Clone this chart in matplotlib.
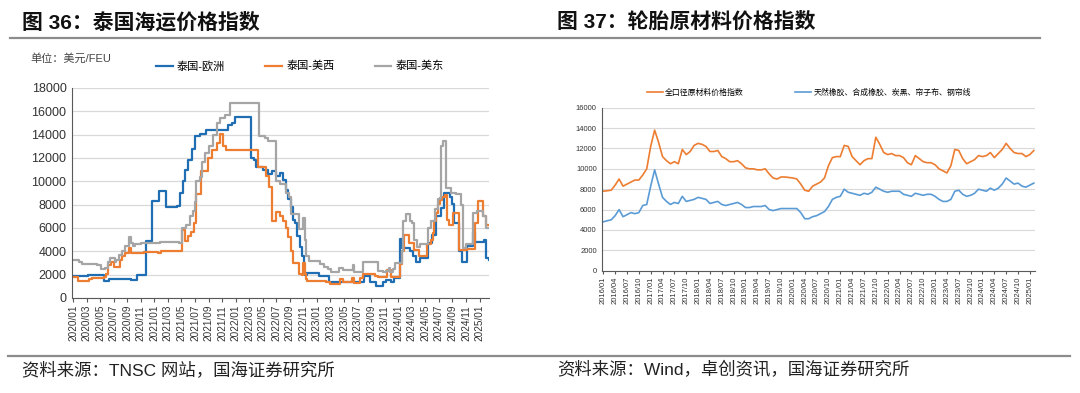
import matplotlib.pyplot as plt
from matplotlib.lines import Line2D
import numpy as np

plt.rcParams['font.family'] = ['Liberation Sans', 'Noto Sans CJK SC', 'DejaVu Sans']

# ---- 图36 泰国海运价格指数 (月序号, 0 = 2020/01) ----
eu_m = [0, 2.2, 4.5, 5.3, 8.5, 9.5, 10.8, 11.6, 12.7, 13.7, 15.3, 15.8, 16.2, 16.6, 17.0, 17.5, 18.0,
        18.8, 19.6, 22.9, 23.5, 23.9, 26.3, 26.7, 27.0, 28.0, 28.8, 29.3, 30.0, 30.6, 31.0, 31.4,
        31.8, 32.2, 32.5, 32.8, 33.1, 33.5, 33.8, 34.1, 34.3, 34.5, 36.3, 37.8, 38.1, 40.5, 42.5,
        43.0, 43.8, 44.7, 45.8, 46.2, 46.9, 47.4, 48.3, 48.6, 49.7, 50.2, 50.6, 51.2, 52.4, 53.0,
        53.6, 54.3, 54.8, 55.6, 56.0, 56.3, 57.0, 57.4, 58.1, 59.0, 59.3, 60.7, 61.0, 61.4]
eu_v = [1900, 1950, 1450, 1600, 1550, 2000, 4850, 8350, 9150, 7800, 7900, 9000, 10000, 11000, 11800,
        12800, 13900, 14100, 14400, 14800, 15000, 15500, 12000, 11800, 11200, 11000, 10600, 10900,
        10500, 10700, 10100, 9300, 8500, 7800, 6700, 6400, 5300, 4400, 3600, 2300, 2000, 2150, 1900,
        1400, 1350, 1400, 1350, 1850, 1350, 1050, 1400, 1550, 1350, 1700, 5050, 4300, 4000, 3600,
        3050, 3400, 4700, 5400, 7000, 7700, 9000, 8700, 8100, 6400, 4000, 3100, 4500, 5700, 4800,
        5000, 3400, 3300]

usw_m = [0, 0.8, 2.3, 2.8, 4.5, 4.9, 5.2, 5.6, 6.1, 7.0, 7.3, 7.7, 8.2, 8.6, 10.5, 12.6, 13.0, 16.1,
         16.5, 17.0, 17.4, 17.8, 18.2, 18.9, 19.9, 20.5, 21.2, 21.7, 22.2, 22.6, 27.3, 28.5, 29.0,
         29.4, 29.9, 30.5, 31.0, 31.4, 31.8, 32.2, 32.5, 33.4, 33.8, 34.0, 34.2, 34.4, 34.6, 37.3,
         37.9, 39.4, 39.8, 41.2, 41.5, 42.3, 42.8, 44.6, 45.0, 46.4, 46.9, 48.3, 48.5, 48.9, 49.6,
         50.3, 51.0, 52.3, 52.8, 53.1, 53.3, 53.6, 53.9, 54.2, 54.5, 54.9, 55.2, 55.5, 56.1, 57.0,
         58.1, 59.3, 59.8, 60.5, 60.9, 61.4]
usw_v = [1800, 1450, 1600, 1700, 1800, 2100, 2850, 3050, 2700, 3300, 3600, 3850, 4300, 3850, 3950,
         3850, 4000, 5800, 4900, 5300, 5700, 6400, 8900, 10900, 12000, 12700, 13300, 14100, 13000,
         12700, 11200, 10500, 9500, 6600, 7400, 7000, 6600, 6000, 5200, 4000, 3000, 2100, 2000, 3000,
         2100, 1600, 1500, 1400, 1200, 1600, 1400, 1700, 1300, 1700, 2100, 1900, 1800, 2400, 1800,
         2900, 4000, 5400, 4700, 4100, 3600, 4600, 5000, 5600, 6600, 7300, 8100, 8400, 8700, 8800,
         6700, 6300, 7300, 4100, 4200, 6400, 8300, 7000, 6300, 6300]

use_m = [0, 0.9, 1.3, 3.6, 4.2, 4.7, 5.1, 5.5, 6.2, 6.4, 6.8, 7.2, 7.7, 8.2, 8.6, 8.9, 9.1, 10.1,
         12.8, 15.6, 16.1, 16.7, 17.3, 17.7, 18.0, 18.2, 18.7, 19.0, 19.5, 20.0, 20.7, 21.2, 21.7,
         22.4, 23.1, 27.4, 28.3, 28.8, 30.0, 30.6, 31.4, 31.9, 32.2, 33.4, 33.9, 34.2, 34.4, 34.9,
         36.4, 37.1, 37.6, 38.1, 39.2, 39.8, 41.3, 41.5, 42.8, 44.4, 45.0, 45.7, 46.2, 46.6, 46.8,
         47.2, 47.5, 48.5, 48.7, 49.1, 49.7, 50.1, 50.4, 50.7, 51.2, 52.4, 52.9, 53.5, 53.9, 54.2,
         54.3, 54.6, 55.1, 55.8, 56.5, 57.3, 57.5, 58.0, 59.0, 59.7, 60.5, 61.0, 61.4]
use_v = [3300, 3100, 2900, 2800, 2500, 2600, 3100, 3400, 3100, 3300, 3700, 4000, 4500, 5200, 4700,
         4500, 4600, 4700, 4800, 4700, 6000, 6300, 7000, 7500, 8200, 10000, 10400, 11700, 12400,
         13000, 14000, 15000, 15400, 15700, 16700, 13900, 13700, 13500, 10000, 9800, 9000, 8700,
         7200, 5900, 6900, 5000, 3600, 3200, 2900, 2700, 2500, 2200, 2600, 2400, 2800, 2200, 3100,
         3100, 2300, 2200, 2300, 2600, 2200, 2500, 3000, 4000, 6600, 7200, 6600, 6400, 5000, 4400,
         4600, 6000, 6600, 7600, 8500, 8600, 13000, 13500, 9400, 9000, 8900, 8000, 4300, 4600, 7300,
         7500, 7000, 6000, 6000]

left_ticks = ['%d/%02d' % (2020 + i // 12, i % 12 + 1) for i in range(0, 61, 2)]

# ---- 图37 轮胎原材料价格指数 (月度, 2016/01 - 2025/02) ----
total_idx = [7800, 7850, 7900, 8400, 9000, 8300, 8500, 8700, 8900, 8900, 9400, 10000,
             12200, 13800, 12600, 11200, 10800, 10500, 10700, 10500, 11900, 11400, 11700, 12300,
             12500, 12400, 12200, 11700, 11700, 11800, 11200, 11000, 10700, 10700, 10800, 10500,
             10100, 10000, 10000, 9900, 9900, 10000, 9500, 9100, 9000, 9200, 9200, 9150,
             9100, 9000, 8500, 7900, 7800, 8300, 8500, 8700, 9100, 10300, 11100, 11200,
             11200, 12300, 12200, 11200, 10800, 10400, 10800, 11000, 11000, 13100, 12400, 11600,
             11400, 11500, 11300, 11300, 11100, 10600, 10400, 11300, 11000, 10700, 10600, 10600,
             10400, 10000, 9800, 9600, 10300, 11900, 11800, 11000, 10500, 10700, 10900, 11300,
             11200, 11300, 11600, 11100, 11500, 11900, 12500, 12000, 11600, 11500, 11500, 11200,
             11400, 11800]
rubber_idx = [4800, 4900, 5000, 5400, 6000, 5300, 5500, 5700, 5600, 5700, 6400, 6500,
              8300, 9900, 8500, 7200, 6800, 6500, 6700, 6600, 7300, 6800, 6900, 7000,
              7200, 7100, 7000, 6600, 6700, 6800, 6500, 6400, 6500, 6600, 6700, 6500,
              6200, 6200, 6300, 6300, 6300, 6400, 6000, 5900, 6000, 6100, 6100, 6100,
              6100, 6100, 5700, 5100, 5100, 5300, 5400, 5600, 5800, 6300, 7000, 7200,
              7300, 8000, 7700, 7600, 7500, 7400, 7600, 7500, 7700, 8200, 8000, 7800,
              7700, 7800, 7800, 7800, 7500, 7400, 7300, 7600, 7500, 7400, 7500, 7500,
              7300, 7000, 6800, 6800, 7000, 7800, 7900, 7500, 7300, 7400, 7600, 8000,
              7900, 7800, 8100, 7900, 8100, 8500, 9100, 8800, 8500, 8600, 8300, 8200,
              8400, 8600]
right_ticks = ['%d/%02d' % (2016 + i // 12, i % 12 + 1) for i in range(0, 109, 3)]

fig = plt.figure(figsize=(10.8, 3.93), dpi=100)

# titles and rules
fig.text(22 / 1080, 1 - 22 / 393, '图 36：泰国海运价格指数', fontsize=15, fontweight='bold',
         va='center', ha='left', color='#111111')
fig.text(557 / 1080, 1 - 22 / 393, '图 37：轮胎原材料价格指数', fontsize=15, fontweight='bold',
         va='center', ha='left', color='#111111')
fig.add_artist(Line2D([10 / 1080, 1040 / 1080], [1 - 38 / 393] * 2, color='#8c8c8c', lw=1.6))
fig.add_artist(Line2D([8 / 1080, 1070 / 1080], [1 - 356 / 393] * 2, color='#8c8c8c', lw=1.6))
fig.text(22 / 1080, 1 - 370 / 393, '资料来源：TNSC 网站，国海证券研究所', fontsize=12.5,
         va='center', ha='left', color='#222222')
fig.text(557 / 1080, 1 - 370 / 393, '资料来源：Wind，卓创资讯，国海证券研究所', fontsize=12.5,
         va='center', ha='left', color='#222222')

# ---- left chart ----
ax1 = fig.add_axes([72 / 1080, 1 - 298 / 393, 417 / 1080, 210 / 393])
ax1.plot(eu_m, eu_v, drawstyle='steps-post', color='#1f6db3', lw=1.6, label='泰国-欧洲')
ax1.plot(usw_m, usw_v, drawstyle='steps-post', color='#ed7d31', lw=1.6, label='泰国-美西')
ax1.plot(use_m, use_v, drawstyle='steps-post', color='#a5a5a5', lw=1.6, label='泰国-美东')
ax1.set_xlim(-0.15, 61.4)
ax1.set_ylim(0, 18000)
ax1.set_yticks(np.arange(0, 18001, 2000))
ax1.set_xticks(np.arange(0, 61, 2))
ax1.set_xticklabels(left_ticks, rotation=90, fontsize=7.2, color='#333333')
ax1.tick_params(axis='y', length=0, labelsize=9, labelcolor='#333333', pad=4)
ax1.tick_params(axis='x', length=3, color='#595959', pad=2)
ax1.grid(axis='y', color='#d9d9d9', lw=0.9)
ax1.set_axisbelow(True)
for s in ['top', 'right']:
    ax1.spines[s].set_visible(False)
for s in ['left', 'bottom']:
    ax1.spines[s].set_color('#595959')
ax1.legend(loc='center', bbox_to_anchor=(300 / 1080, 1 - 66 / 393), bbox_transform=fig.transFigure,
           ncol=3, frameon=False, fontsize=8, handlelength=1.5, columnspacing=3.6, handletextpad=0.4)
fig.text(30 / 1080, 1 - 58 / 393, '单位：美元/FEU', fontsize=8, va='center', ha='left', color='#444444')

# ---- right chart ----
months = np.arange(len(total_idx))
ax2 = fig.add_axes([602.3 / 1080, 1 - 270.7 / 393, 432.7 / 1080, 163 / 393])
ax2.plot(months, total_idx, color='#ed7d31', lw=1.2, label='全口径原材料价格指数')
ax2.plot(months, rubber_idx, color='#5b9bd5', lw=1.2, label='天然橡胶、合成橡胶、炭黑、帘子布、钢帘线')
ax2.set_xlim(-0.25, 109.3)
ax2.set_ylim(0, 16000)
ax2.set_yticks(np.arange(0, 16001, 2000))
ax2.set_xticks(np.arange(0, 109, 3))
ax2.set_xticklabels(right_ticks, rotation=90, fontsize=5.5, color='#333333')
ax2.tick_params(axis='y', length=0, labelsize=5.5, labelcolor='#333333', pad=4)
ax2.tick_params(axis='x', length=2, color='#595959', pad=2)
ax2.grid(axis='y', color='#d9d9d9', lw=0.8)
ax2.set_axisbelow(True)
for s in ['top', 'right']:
    ax2.spines[s].set_visible(False)
for s in ['left', 'bottom']:
    ax2.spines[s].set_color('#595959')
ax2.legend(loc='center', bbox_to_anchor=(809 / 1080, 1 - 93 / 393), bbox_transform=fig.transFigure,
           ncol=2, frameon=False, fontsize=5.7, handlelength=2.0, columnspacing=6.5, handletextpad=0.3)

fig.savefig('out.png', dpi=100)
